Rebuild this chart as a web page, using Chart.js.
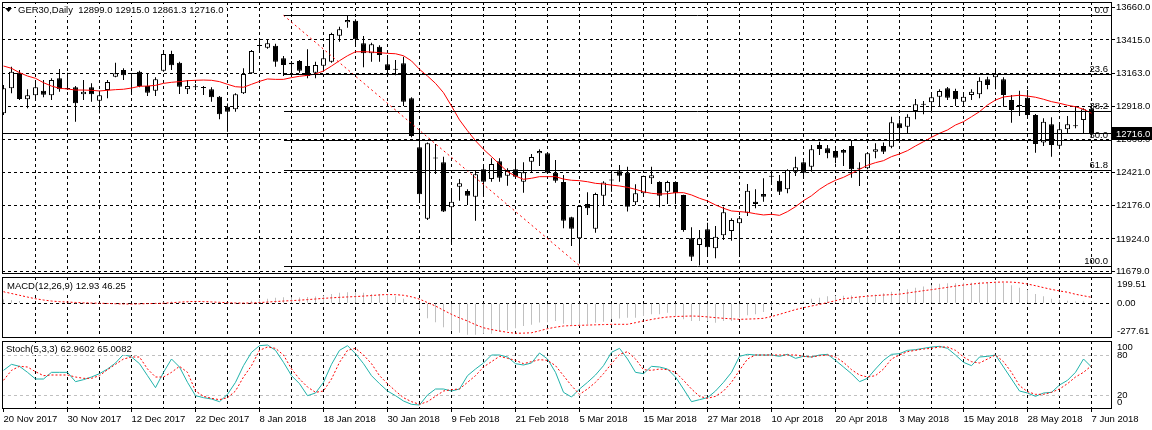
<!DOCTYPE html>
<html>
<head>
<meta charset="utf-8">
<script src="https://cdn.jsdelivr.net/npm/chart.js@4.4.0/dist/chart.umd.min.js"></script>
<style>
  html, body { margin: 0; padding: 0; background: #fff; }
  #wrap { position: relative; width: 1152px; height: 430px; overflow: hidden; background: #fff; }
  canvas { position: absolute; left: 0; }
</style>
</head>
<body>
<div id="wrap">
  <canvas id="mainChart" width="1152" height="280" style="top:0"></canvas>
  <canvas id="macdChart" width="1152" height="64" style="top:276px"></canvas>
  <canvas id="stochChart" width="1152" height="90" style="top:340px"></canvas>
</div>
<script>
// date labels under the bottom panel, one every 8 bars
const dateLabels = ['20 Nov 2017', '30 Nov 2017', '12 Dec 2017', '22 Dec 2017', '8 Jan 2018', '18 Jan 2018',
  '30 Jan 2018', '9 Feb 2018', '21 Feb 2018', '5 Mar 2018', '15 Mar 2018', '27 Mar 2018', '10 Apr 2018',
  '20 Apr 2018', '3 May 2018', '15 May 2018', '28 May 2018', '7 Jun 2018'];

// daily candles GER30
const opens = [12866,13053,13170,12971,13001,13035,13001,13128,13053,13061,
  13008,13061,12960,13040,13140,13190,13165,13177,13070,13035,
  13185,13310,13245,13046,13065,13060,13046,12990,12915,12896,
  13016,13165,13370,13357,13372,13278,13245,13258,13220,13170,
  13222,13252,13447,13548,13560,13390,13315,13365,13233,13195,
  13240,12978,12611,12076,12530,12499,12161,12316,12284,12241,
  12446,12373,12506,12398,12446,12353,12503,12566,12566,12421,
  12351,12086,11929,12186,12001,12248,12363,12431,12421,12199,
  12266,12379,12351,12278,12351,12254,11929,11879,11997,11854,
  11952,11984,12041,12121,12203,12261,12391,12361,12296,12428,
  12499,12466,12628,12603,12583,12591,12621,12456,12454,12578,
  12621,12615,12791,12765,12883,12930,12948,12990,13053,13033,
  12953,13003,13008,13120,13135,13120,12965,12923,12983,12853,
  12646,12783,12623,12746,12768,12816,12899];
const highs = [13078,13215,13190,13046,13103,13115,13128,13198,13170,13070,
  13115,13091,13035,13115,13245,13203,13168,13185,13160,13135,
  13340,13335,13252,13115,13085,13070,13061,12995,12940,13016,
  13203,13340,13428,13420,13387,13295,13258,13265,13345,13252,
  13340,13470,13515,13600,13570,13445,13395,13375,13303,13265,
  13290,12986,12753,12646,12636,12540,12304,12373,12296,12441,
  12478,12528,12528,12454,12528,12499,12561,12596,12576,12516,
  12404,12091,12179,12274,12271,12356,12416,12478,12466,12334,
  12399,12466,12356,12361,12356,12256,12012,11991,12046,12021,
  12166,12079,12096,12336,12296,12379,12441,12404,12446,12540,
  12506,12628,12653,12628,12596,12598,12666,12499,12573,12641,
  12646,12840,12821,12858,12973,12958,13020,13046,13063,13050,
  13020,13046,13135,13140,13190,13135,13003,13035,13040,12860,
  12828,12836,12795,12846,12920,12903,12915];
const lows = [12853,13016,12965,12903,12965,12986,12965,13028,13040,12803,
  12965,12953,12866,12978,13135,13115,13010,13061,12995,12995,
  13177,13190,13010,13010,13040,13003,12953,12821,12728,12878,
  13010,13160,13320,13350,13215,13145,13153,13170,13128,13128,
  13177,13245,13402,13507,13365,13210,13252,13252,13160,13150,
  12920,12686,12194,12066,12411,12127,11892,12211,12179,12061,
  12241,12353,12353,12323,12373,12271,12421,12471,12411,12346,
  12004,11871,11740,12104,11971,12179,12278,12353,12129,12179,
  12261,12336,12161,12186,12186,11979,11759,11726,11796,11779,
  11916,11911,11791,12096,12154,12203,12344,12254,12266,12396,
  12391,12428,12553,12528,12491,12471,12383,12321,12446,12528,
  12561,12603,12646,12716,12821,12858,12890,12920,12965,12920,
  12915,12965,12978,13046,13046,12915,12795,12846,12828,12571,
  12621,12541,12615,12716,12753,12716,12716];
const closes = [13053,13177,12973,13001,13061,13005,13115,13046,13048,12941,
  13028,13008,13001,13100,13165,13150,13160,13070,13020,13120,
  13310,13225,13065,13070,13061,13055,12986,12858,12878,13008,
  13160,13333,13375,13390,13252,13228,13233,13185,13145,13228,
  13278,13460,13495,13565,13420,13315,13383,13303,13190,13192,
  12953,12696,12259,12641,12527,12129,12203,12341,12248,12409,
  12353,12486,12383,12433,12391,12424,12538,12583,12421,12361,
  12061,12001,12171,12154,12261,12348,12368,12398,12166,12266,
  12396,12401,12248,12351,12266,11991,11791,11929,11862,11941,
  12124,12066,12079,12286,12186,12241,12396,12278,12441,12461,
  12421,12596,12598,12566,12533,12571,12446,12451,12566,12596,
  12578,12798,12753,12840,12933,12935,12986,13033,12983,12971,
  12990,13028,13110,13078,13160,13003,12890,12920,12853,12636,
  12803,12628,12746,12783,12771,12896,12716];

// red moving average on the price panel
const maValues = [13220,13203,13170,13145,13128,13095,13070,13053,13048,13040,
  13040,13038,13033,13038,13043,13046,13055,13068,13070,13075,
  13090,13098,13103,13110,13113,13115,13113,13103,13083,13065,
  13061,13083,13105,13123,13120,13120,13133,13143,13150,13160,
  13183,13220,13260,13297,13327,13327,13325,13320,13315,13312,
  13297,13258,13195,13145,13090,13020,12920,12816,12735,12660,
  12596,12541,12484,12428,12396,12371,12379,12391,12391,12391,
  12373,12364,12361,12353,12341,12336,12328,12321,12311,12296,
  12278,12266,12261,12263,12271,12271,12254,12229,12209,12179,
  12154,12134,12129,12124,12113,12104,12109,12101,12129,12166,
  12211,12248,12296,12334,12364,12386,12416,12446,12476,12496,
  12511,12541,12561,12586,12621,12653,12686,12716,12741,12778,
  12803,12840,12878,12928,12965,12988,12995,13001,12995,12986,
  12971,12953,12941,12926,12915,12896,12866];

// MACD(12,26,9): histogram and signal
const macdValues = [30,25,18,8,4,0,-2,-3,-4,-6,
  -6,-7,-6,-4,0,2,3,4,4,6,
  12,14,12,12,10,8,4,-4,-8,-6,
  4,20,32,34,42,47,47,45,48,52,
  60,73,81,86,86,81,73,73,65,55,
  34,-5,-44,-117,-148,-187,-213,-231,-247,-247,
  -239,-239,-226,-213,-195,-179,-168,-150,-148,-140,
  -161,-170,-178,-165,-152,-145,-126,-120,-113,-113,
  -100,-87,-87,-74,-100,-126,-140,-140,-140,-152,
  -139,-139,-113,-95,-87,-69,-27,-12,-4,6,
  17,35,43,55,58,58,60,56,60,68,
  78,90,100,110,121,130,140,152,156,156,
  160,160,166,166,168,160,140,121,105,72,
  55,35,28,20,14,15,12.93];
const signalValues = [90,76,62,48,35,25,17,12,9,6,
  3,1,0,-2,-4,-6,-7,-5,-3,-2,
  0,4,8,12,14,13,10,7,4,2,
  1,2,5,9,13,17,20,24,28,33,
  38,42,46,49,52,56,60,65,68,67,
  62,50,32,5,-22,-55,-87,-115,-139,-168,
  -192,-206,-217,-228,-235,-234,-231,-216,-199,-188,
  -178,-175,-173,-171,-169,-167,-165,-165,-165,-152,
  -139,-127,-116,-108,-104,-102,-100,-102,-107,-113,
  -118,-122,-126,-124,-122,-118,-104,-87,-68,-50,
  -35,-22,-9,5,20,35,42,49,55,60,
  64,67,71,80,89,98,106,115,124,134,
  142,149,156,160,164,166,165,160,150,137,
  122,108,96,86,70,58,46.25];

// Stochastic(5,3,3)
const stochK = [58,67,64,55,45,45,55,55,55,41,
  44,48,53,60,69,82,78,68,50,32,
  55,75,63,40,20,17,15,11,22,40,
  65,85,95,96,88,70,50,38,20,24,
  40,67,88,95,83,68,50,38,27,20,
  12,7,6,21,30,30,27,30,50,60,
  69,81,81,78,68,66,69,84,75,55,
  25,18,30,40,51,65,85,91,75,55,
  53,64,63,60,48,30,11,14,17,27,
  40,55,79,82,81,81,81,79,82,76,
  79,78,81,82,73,63,53,41,46,60,
  73,82,83,88,89,91,93,94,91,81,
  70,65,78,79,81,63,45,27,24,19,
  24,25,36,43,55,75,62.96];
const stochD = [43,58,64,63,56,50,51,51,51,48,
  46,46,50,59,67,75,78,78,60,48,
  48,55,64,55,27,19,16,14,17,27,
  48,65,88,93,91,81,60,45,33,25,
  27,45,70,88,91,81,68,50,38,27,
  17,11,7,11,19,27,29,30,40,50,
  63,71,79,76,73,68,71,74,73,65,
  50,35,22,30,40,53,68,82,86,75,
  59,58,60,59,55,43,30,19,16,19,
  27,40,58,75,81,81,81,81,81,81,
  79,78,80,81,78,70,59,51,48,50,
  60,75,81,86,88,90,91,93,93,88,
  78,71,69,75,81,71,55,35,26,22,
  22,25,30,38,48,55,65.01];

// axis ticks
const priceTicks = [13660, 13415, 13163, 12918, 12668, 12421, 12176, 11924, 11679];
const macdTickLabels = ['199.51', '0.00', '-277.61'];
const macdTickPos = [148, 0, -223];
const stochTickLabels = ['100', '80', '20', '0'];
const stochTickPos = [92.5, 80, 20, 9.5];
const stochLevels = [80, 20];

// Fibonacci retracement
const fibLabels = ['0.0', '23.6', '38.2', '50.0', '61.8', '100.0'];
const fibPrices = [13600, 13157, 12883, 12662, 12441, 11724];
const fibFromBar = 35;
const fibToBar = 72;

const mainTitle = 'GER30,Daily  12899.0 12915.0 12861.3 12716.0';
const macdTitle = 'MACD(12,26,9) 12.93 46.25';
const stochTitle = 'Stoch(5,3,3) 62.9602 65.0082';

const FONT = '"Liberation Sans", Arial, sans-serif';
Chart.defaults.font.family = FONT;
Chart.defaults.font.size = 9.5;
Chart.defaults.color = '#000';
Chart.defaults.animation = false;
Chart.defaults.plugins.legend.display = false;
Chart.defaults.plugins.tooltip.enabled = false;

const xMin = -0.1875, xMax = 138.5625;
const gridBars = [];
for (let b = 4; b <= 136; b += 4) gridBars.push(b);
const tickBars = [0].concat(gridBars);
const clear = 'rgba(0,0,0,0)';

// keep the plot area exactly where the layout padding puts it
function noPad(s) {
    s.paddingTop = 0;
    s.paddingBottom = 0;
    s.paddingLeft = 0;
    s.paddingRight = 0;
}

function xAxis(withLabels) {
    return {
        type: 'linear', min: xMin, max: xMax, offset: false,
        afterBuildTicks: s => { s.ticks = (withLabels ? tickBars : gridBars).map(v => ({ value: v })); },
        afterFit: s => { s.height = withLabels ? 21 : 0; noPad(s); },
        grid: {
            color: c => (c.tick && c.tick.value === 0) ? clear : '#000',
            offset: false, drawTicks: withLabels, tickLength: 3, tickBorderDash: [],
            tickColor: c => (c.tick && c.tick.value % 8 === 0) ? '#000' : clear
        },
        border: { display: false, dash: [3, 3] },
        ticks: {
            display: withLabels, autoSkip: false, maxRotation: 0, minRotation: 0, align: 'start', padding: 2,
            callback: v => v % 8 === 0 ? dateLabels[v / 8] : ''
        }
    };
}

// panel frame + title on a white patch
function framePlugin(title, tx, ty) {
    return {
        id: 'frame',
        afterDraw(chart) {
            const { ctx, chartArea: a } = chart;
            ctx.save();
            ctx.strokeStyle = '#000';
            ctx.lineWidth = 1;
            ctx.strokeRect(a.left + 0.5, a.top + 0.5, a.right - a.left - 1, a.bottom - a.top - 1);
            ctx.font = '9.5px ' + FONT;
            const w = ctx.measureText(title).width;
            ctx.fillStyle = '#fff';
            ctx.fillRect(tx - 2, ty - 6, w + 5, 12);
            ctx.fillStyle = '#000';
            ctx.textAlign = 'left';
            ctx.textBaseline = 'middle';
            ctx.fillText(title, tx, ty);
            ctx.restore();
        }
    };
}

const lastClose = closes[closes.length - 1];

// fib levels, bid line and price tag on the price panel
const mainOverlay = {
    id: 'mainOverlay',
    afterDatasetsDraw(chart) {
        const { ctx, chartArea: a, scales: { x, y } } = chart;
        ctx.save();
        ctx.strokeStyle = '#000';
        ctx.lineWidth = 1;
        ctx.font = '9.5px ' + FONT;
        ctx.fillStyle = '#000';
        ctx.textAlign = 'right';
        ctx.textBaseline = 'alphabetic';
        const x0 = Math.round(x.getPixelForValue(fibFromBar));
        fibPrices.forEach((p, i) => {
            const py = Math.round(y.getPixelForValue(p)) + 0.5;
            ctx.beginPath();
            ctx.moveTo(x0, py);
            ctx.lineTo(a.right - 1, py);
            ctx.stroke();
            ctx.fillText(fibLabels[i], a.right - 4, py - 3);
        });
        const ly = Math.round(y.getPixelForValue(lastClose)) + 0.5;
        ctx.beginPath();
        ctx.moveTo(a.left, ly);
        ctx.lineTo(a.right, ly);
        ctx.stroke();
        ctx.restore();
    },
    afterDraw(chart) {
        const { ctx, chartArea: a, scales: { y } } = chart;
        const ly = Math.round(y.getPixelForValue(lastClose));
        ctx.save();
        ctx.fillStyle = '#000';
        ctx.fillRect(a.right, ly - 6, chart.width - a.right, 13);
        ctx.fillStyle = '#fff';
        ctx.font = '9.5px ' + FONT;
        ctx.textAlign = 'left';
        ctx.textBaseline = 'middle';
        ctx.fillText(lastClose.toFixed(1), a.right + 4, ly + 1);
        // small menu triangle before the title
        ctx.fillStyle = '#000';
        ctx.beginPath();
        ctx.moveTo(5, 8);
        ctx.lineTo(12, 8);
        ctx.lineTo(8.5, 12);
        ctx.closePath();
        ctx.fill();
        ctx.restore();
    }
};

new Chart(document.getElementById('mainChart'), {
    type: 'bar',
    data: {
        datasets: [
            {
                type: 'line', data: maValues.map((v, i) => ({ x: i, y: v })),
                borderColor: '#ff0000', borderWidth: 1, pointRadius: 0, order: 0
            },
            {
                type: 'line',
                data: [{ x: fibFromBar, y: fibPrices[0] }, { x: fibToBar, y: fibPrices[fibPrices.length - 1] }],
                borderColor: '#ff0000', borderWidth: 1, borderDash: [2, 3], pointRadius: 0, order: 0
            },
            {
                data: closes.map((c, i) => ({ x: i, y: [opens[i], c] })),
                backgroundColor: closes.map((c, i) => c >= opens[i] ? '#ffffff' : '#000000'),
                borderColor: '#000', borderWidth: 1, borderSkipped: false,
                maxBarThickness: 5, minBarLength: 1, inflateAmount: 0, grouped: false, order: 1
            },
            {
                data: lows.map((l, i) => ({ x: i, y: [l, highs[i]] })),
                backgroundColor: '#000', borderWidth: 0,
                maxBarThickness: 1, inflateAmount: 0, grouped: false, order: 2
            }
        ]
    },
    options: {
        responsive: false, devicePixelRatio: 1,
        layout: { padding: { left: 2, top: 2, right: 0, bottom: 6 } },
        scales: {
            x: xAxis(false),
            y: {
                position: 'right', min: 11661.6, max: 13699.7,
                afterBuildTicks: s => { s.ticks = priceTicks.map(v => ({ value: v })); },
                afterFit: s => { s.width = 40; noPad(s); },
                grid: { color: '#000', drawTicks: true, tickLength: 3, tickColor: '#000', tickBorderDash: [] },
                border: { display: false, dash: [3, 3] },
                ticks: { autoSkip: false, padding: 1, callback: v => v.toFixed(1) }
            }
        }
    },
    plugins: [mainOverlay, framePlugin(mainTitle, 18, 10)]
});

new Chart(document.getElementById('macdChart'), {
    type: 'bar',
    data: {
        datasets: [
            {
                type: 'line', data: signalValues.map((v, i) => ({ x: i, y: v })),
                borderColor: '#ff0000', borderWidth: 1, borderDash: [2, 2], pointRadius: 0, order: 0
            },
            {
                data: macdValues.map((v, i) => ({ x: i, y: v })),
                backgroundColor: '#c0c0c0', borderWidth: 0,
                maxBarThickness: 1, inflateAmount: 0, grouped: false, order: 1
            }
        ]
    },
    options: {
        responsive: false, devicePixelRatio: 1,
        layout: { padding: { left: 2, top: 1, right: 0, bottom: 2 } },
        scales: {
            x: xAxis(false),
            y: {
                position: 'right', min: -272, max: 205,
                afterBuildTicks: s => { s.ticks = macdTickPos.map(v => ({ value: v })); },
                afterFit: s => { s.width = 40; noPad(s); },
                grid: { color: c => (c.tick && c.tick.value === 0) ? '#000' : clear, drawTicks: false },
                border: { display: false, dash: [3, 3] },
                ticks: { autoSkip: false, padding: 5, callback: (v, i) => macdTickLabels[i] }
            }
        }
    },
    plugins: [framePlugin(macdTitle, 7, 10)]
});

new Chart(document.getElementById('stochChart'), {
    type: 'line',
    data: {
        datasets: [
            {
                data: stochK.map((v, i) => ({ x: i, y: v })),
                borderColor: '#20b2aa', borderWidth: 1, pointRadius: 0, order: 1
            },
            {
                data: stochD.map((v, i) => ({ x: i, y: v })),
                borderColor: '#ff0000', borderWidth: 1, borderDash: [2, 2], pointRadius: 0, order: 0
            }
        ]
    },
    options: {
        responsive: false, devicePixelRatio: 1,
        layout: { padding: { left: 2, top: 1, right: 0, bottom: 0 } },
        scales: {
            x: xAxis(true),
            y: {
                position: 'right', min: 0, max: 102,
                afterBuildTicks: s => { s.ticks = stochTickPos.map(v => ({ value: v })); },
                afterFit: s => { s.width = 40; noPad(s); },
                grid: { color: c => (c.tick && stochLevels.includes(c.tick.value)) ? '#c0c0c0' : clear, drawTicks: false },
                border: { display: false, dash: [3, 3] },
                ticks: { autoSkip: false, padding: 5, callback: (v, i) => stochTickLabels[i] }
            }
        }
    },
    plugins: [framePlugin(stochTitle, 6, 9)]
});
</script>
</body>
</html>
